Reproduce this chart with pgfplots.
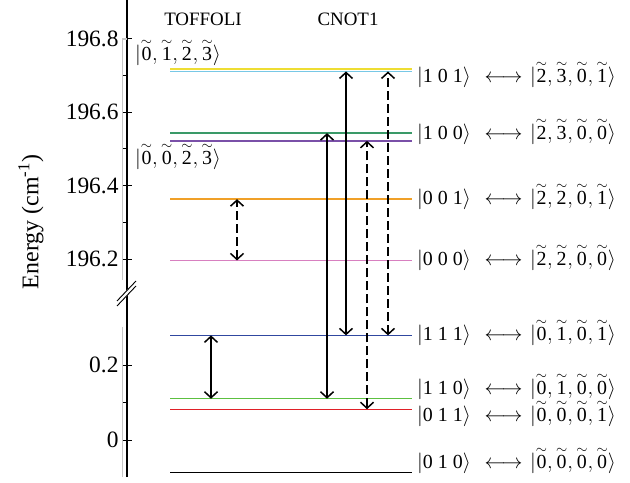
\documentclass[border=0pt]{standalone}
\usepackage{fontspec}
\setmainfont{Liberation Serif}
\usepackage{pgfplots}
\pgfplotsset{compat=1.18}
\usetikzlibrary{arrows.meta}
\definecolor{cYel}{RGB}{238,221,51}
\definecolor{cCya}{RGB}{120,200,230}
\definecolor{cGrA}{RGB}{58,154,104}
\definecolor{cPur}{RGB}{122,80,168}
\definecolor{cOra}{RGB}{240,160,40}
\definecolor{cPin}{RGB}{216,128,192}
\definecolor{cBlu}{RGB}{48,72,160}
\definecolor{cGrB}{RGB}{92,192,64}
\definecolor{cRed}{RGB}{224,32,40}
\newcommand{\tk}[1]{{\stackrel{\sim}{\hbox{#1}}}}
\newcommand{\lab}[2]{$|\hbox{#1}\rangle\hspace{8bp}\longleftrightarrow\hspace{2bp}|#2\rangle$}
\begin{document}
\begin{tikzpicture}
\path[use as bounding box] (0,0) rectangle (630bp,483bp);
\begin{axis}[
  at={(127bp,6bp)}, anchor=south west,
  scale only axis, width=503bp, height=477bp,
  xmin=127, xmax=630, ymin=6, ymax=483,
  axis y line*=left, axis x line=none,
  xtick=\empty,
  clip=false,
  ytick={43,118,224,297.4,370.8,444.2},
  yticklabels={0,0.2,196.2,196.4,196.6,196.8},
  minor ytick={80.5,260.7,334.1,407.5},
  tick align=center, major tick length=10bp, minor tick length=5bp,
  minor tick style={xshift=-2.5bp},
  tick style={line width=0.9bp, black},
  yticklabel style={font=\fontsize{23.5}{27}\selectfont},
  /pgf/number format/assume math mode=true,
  axis line style={line width=1.2bp},
  y filter/.expression={y>100 ? 224+367*(y-196.2) : 43+375*y},
  lev/.style={line width=1.4bp, mark=none},
  ar/.style={line width=1.5bp, color=black, mark=none,
     {Straight Barb[length=6bp,width=13bp]}-{Straight Barb[length=6bp,width=13bp]}},
  da/.style={dash pattern=on 9bp off 4bp},
]
% energy levels
\addplot[lev, color=cYel] coordinates {(170,196.718) (412,196.718)};
\addplot[lev, color=cCya] coordinates {(170,196.711) (412,196.711)};
\addplot[lev, color=cGrA] coordinates {(170,196.543) (412,196.543)};
\addplot[lev, color=cPur] coordinates {(170,196.522) (412,196.522)};
\addplot[lev, color=cOra] coordinates {(170,196.363) (412,196.363)};
\addplot[lev, color=cPin] coordinates {(170,196.196) (412,196.196)};
\addplot[lev, color=cBlu] coordinates {(170,0.279) (412,0.279)};
\addplot[lev, color=cGrB] coordinates {(170,0.110) (412,0.110)};
\addplot[lev, color=cRed] coordinates {(170,0.082) (412,0.082)};
\addplot[lev, color=black] coordinates {(170,-0.087) (412,-0.087)};
% transitions
\addplot[ar] coordinates {(211,0.110) (211,0.279)};
\addplot[ar, da] coordinates {(237,196.196) (237,196.363)};
\addplot[ar] coordinates {(327,0.110) (327,196.543)};
\addplot[ar] coordinates {(346,0.279) (346,196.711)};
\addplot[ar, da] coordinates {(367,0.082) (367,196.522)};
\addplot[ar, da] coordinates {(388,0.279) (388,196.711)};
\end{axis}
\begin{scope}[x=1bp, y=-1bp, yshift=483bp]
% axis break
\fill[white] (118,300) -- (135,281) -- (135,287) -- (118,306) -- cycle;
\draw[line width=0.9bp] (117,301) -- (136,281);
\draw[line width=0.9bp] (117,306) -- (136,286);
% grey guide lines
\draw[gray!45, line width=1.2bp] (127,39) -- (122.5,39) -- (122.5,280);
\draw[gray!45, line width=1.2bp] (122.5,327) -- (122.5,477);
% texts
\node[font=\fontsize{19}{22}\selectfont] at (203,19) {TOFFOLI};
\node[font=\fontsize{19}{22}\selectfont] at (348,19) {CNOT1};
\node[rotate=90, font=\fontsize{24}{28}\selectfont] at (31,222) {Energy (cm\textsuperscript{-1})};
\node[anchor=base west, inner sep=0, font=\fontsize{20}{24}\selectfont] at (135,60.5) {$|\tk{0}, \tk{1}, \tk{2}, \tk{3}\rangle$};
\node[anchor=base west, inner sep=0, font=\fontsize{20}{24}\selectfont] at (135,165) {$|\tk{0}, \tk{0}, \tk{2}, \tk{3}\rangle$};
\begin{scope}[every node/.style={anchor=base west, inner sep=0, font=\fontsize{20}{24}\selectfont}]
\node at (417,83) {\lab{1 0 1}{\tk{2}, \tk{3}, \tk{0},\tk{1}}};
\node at (417,140) {\lab{1 0 0}{\tk{2}, \tk{3}, \tk{0},\tk{0}}};
\node at (417,205) {\lab{0 0 1}{\tk{2}, \tk{2}, \tk{0},\tk{1}}};
\node at (417,266) {\lab{0 0 0}{\tk{2}, \tk{2}, \tk{0},\tk{0}}};
\node at (417,340.5) {\lab{1 1 1}{\tk{0}, \tk{1}, \tk{0},\tk{1}}};
\node at (417,395) {\lab{1 1 0}{\tk{0}, \tk{1}, \tk{0},\tk{0}}};
\node at (417,422) {\lab{0 1 1}{\tk{0}, \tk{0}, \tk{0},\tk{1}}};
\node at (417,468.5) {\lab{0 1 0}{\tk{0}, \tk{0}, \tk{0},\tk{0}}};
\end{scope}
\end{scope}
\end{tikzpicture}
\end{document}
